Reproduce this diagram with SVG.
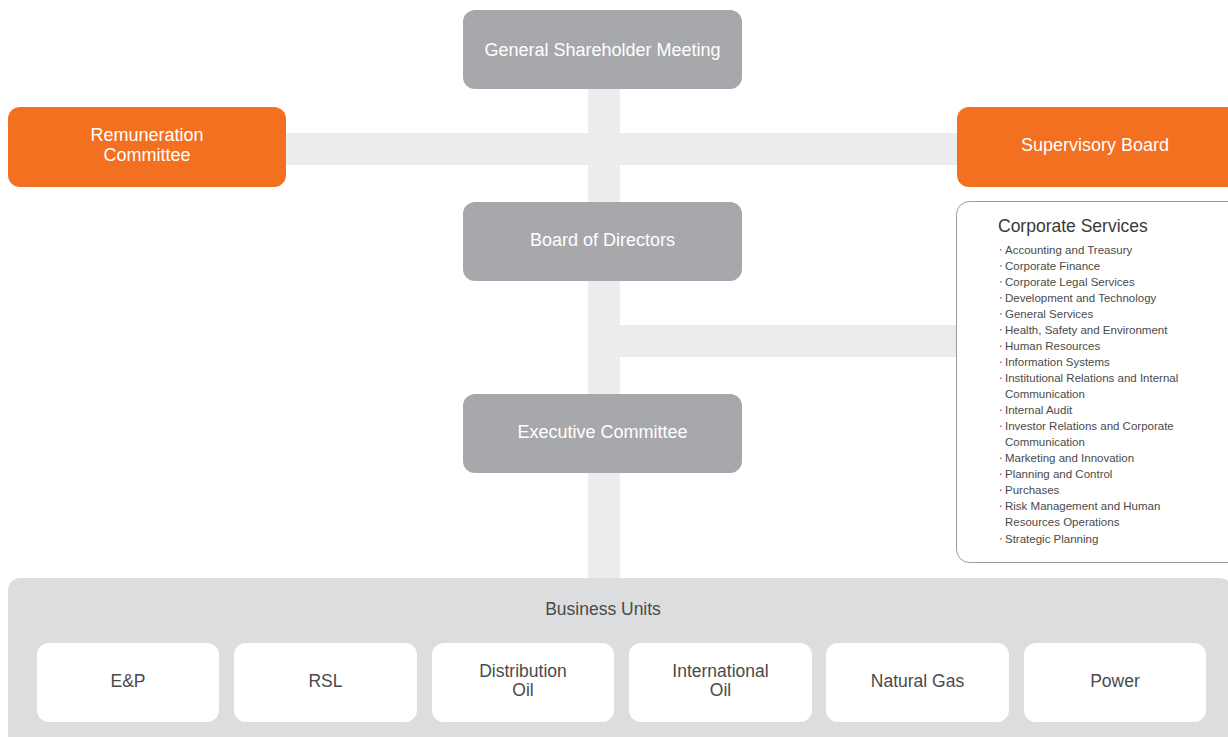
<svg xmlns="http://www.w3.org/2000/svg" width="1228" height="737" viewBox="0 0 1228 737">
  <style>
    .bar { fill: #ececec; }
    .gray { fill: #a7a8ab; }
    .orange { fill: #f37021; }
    .unit { fill: #ffffff; }
    .wt { fill: #ffffff; font-family: "Liberation Sans", Arial, sans-serif; font-size: 18px; text-anchor: middle; }
    .dk { fill: #4a4a4a; font-family: "Liberation Sans", Arial, sans-serif; font-size: 17.5px; text-anchor: middle; }
    .title { fill: #3a3a3a; font-family: "Liberation Sans", Arial, sans-serif; font-size: 17.5px; }
    .item { fill: #4a4a4a; font-family: "Liberation Sans", Arial, sans-serif; font-size: 11.5px; }
    .dot { fill: #f37021; }
  </style>

  <!-- connector bars -->
  <g id="connectors">
    <rect class="bar" x="588" y="89" width="32" height="490"/>
    <rect class="bar" x="286" y="133" width="671" height="32"/>
    <rect class="bar" x="620" y="325" width="337" height="32"/>
  </g>

  <g id="general-shareholder-meeting">
    <rect class="gray" x="463" y="10" width="279" height="79" rx="12"/>
    <text class="wt" x="602.5" y="56">General Shareholder Meeting</text>
  </g>

  <g id="remuneration-committee">
    <rect class="orange" x="8" y="107" width="278" height="80" rx="12"/>
    <text class="wt" x="147" y="141">Remuneration</text>
    <text class="wt" x="147" y="161">Committee</text>
  </g>

  <g id="supervisory-board">
    <rect class="orange" x="957" y="107" width="285" height="80" rx="12"/>
    <text class="wt" x="1095" y="151">Supervisory Board</text>
  </g>

  <g id="board-of-directors">
    <rect class="gray" x="463" y="202" width="279" height="79" rx="12"/>
    <text class="wt" x="602.5" y="246">Board of Directors</text>
  </g>

  <g id="executive-committee">
    <rect class="gray" x="463" y="394" width="279" height="79" rx="12"/>
    <text class="wt" x="602.5" y="438">Executive Committee</text>
  </g>

  <g id="corporate-services">
    <rect x="956.5" y="201.5" width="285" height="361" rx="13" fill="#ffffff" stroke="#9a9b9d" stroke-width="1"/>
    <text class="title" x="998" y="232">Corporate Services</text>
    <g class="item">
      <text x="1005" y="253.5">Accounting and Treasury</text>
      <text x="1005" y="269.5">Corporate Finance</text>
      <text x="1005" y="285.5">Corporate Legal Services</text>
      <text x="1005" y="301.5">Development and Technology</text>
      <text x="1005" y="317.5">General Services</text>
      <text x="1005" y="333.5">Health, Safety and Environment</text>
      <text x="1005" y="350">Human Resources</text>
      <text x="1005" y="366">Information Systems</text>
      <text x="1005" y="382">Institutional Relations and Internal</text>
      <text x="1005" y="398">Communication</text>
      <text x="1005" y="414">Internal Audit</text>
      <text x="1005" y="430">Investor Relations and Corporate</text>
      <text x="1005" y="446">Communication</text>
      <text x="1005" y="462">Marketing and Innovation</text>
      <text x="1005" y="478">Planning and Control</text>
      <text x="1005" y="494">Purchases</text>
      <text x="1005" y="510">Risk Management and Human</text>
      <text x="1005" y="526">Resources Operations</text>
      <text x="1005" y="542.5">Strategic Planning</text>
    </g>
    <g class="dot">
      <rect x="1000" y="249" width="1.6" height="1.6"/>
      <rect x="1000" y="265" width="1.6" height="1.6"/>
      <rect x="1000" y="281" width="1.6" height="1.6"/>
      <rect x="1000" y="297" width="1.6" height="1.6"/>
      <rect x="1000" y="313" width="1.6" height="1.6"/>
      <rect x="1000" y="329" width="1.6" height="1.6"/>
      <rect x="1000" y="345.5" width="1.6" height="1.6"/>
      <rect x="1000" y="361.5" width="1.6" height="1.6"/>
      <rect x="1000" y="377.5" width="1.6" height="1.6"/>
      <rect x="1000" y="409.5" width="1.6" height="1.6"/>
      <rect x="1000" y="425.5" width="1.6" height="1.6"/>
      <rect x="1000" y="457.5" width="1.6" height="1.6"/>
      <rect x="1000" y="473.5" width="1.6" height="1.6"/>
      <rect x="1000" y="489.5" width="1.6" height="1.6"/>
      <rect x="1000" y="505.5" width="1.6" height="1.6"/>
      <rect x="1000" y="538" width="1.6" height="1.6"/>
    </g>
  </g>

  <g id="business-units">
    <rect x="8" y="578" width="1224" height="170" rx="12" fill="#dcdddf"/>
    <text class="dk" x="603" y="615">Business Units</text>

    <g id="unit-ep">
      <rect class="unit" x="37" y="643" width="182" height="79" rx="12"/>
      <text class="dk" x="128" y="687">E&amp;P</text>
    </g>
    <g id="unit-rsl">
      <rect class="unit" x="234" y="643" width="183" height="79" rx="12"/>
      <text class="dk" x="325.5" y="687">RSL</text>
    </g>
    <g id="unit-distribution-oil">
      <rect class="unit" x="432" y="643" width="182" height="79" rx="12"/>
      <text class="dk" x="523" y="677">Distribution</text>
      <text class="dk" x="523" y="696">Oil</text>
    </g>
    <g id="unit-international-oil">
      <rect class="unit" x="629" y="643" width="183" height="79" rx="12"/>
      <text class="dk" x="720.5" y="677">International</text>
      <text class="dk" x="720.5" y="696">Oil</text>
    </g>
    <g id="unit-natural-gas">
      <rect class="unit" x="826" y="643" width="183" height="79" rx="12"/>
      <text class="dk" x="917.5" y="687">Natural Gas</text>
    </g>
    <g id="unit-power">
      <rect class="unit" x="1024" y="643" width="182" height="79" rx="12"/>
      <text class="dk" x="1115" y="687">Power</text>
    </g>
  </g>
</svg>
